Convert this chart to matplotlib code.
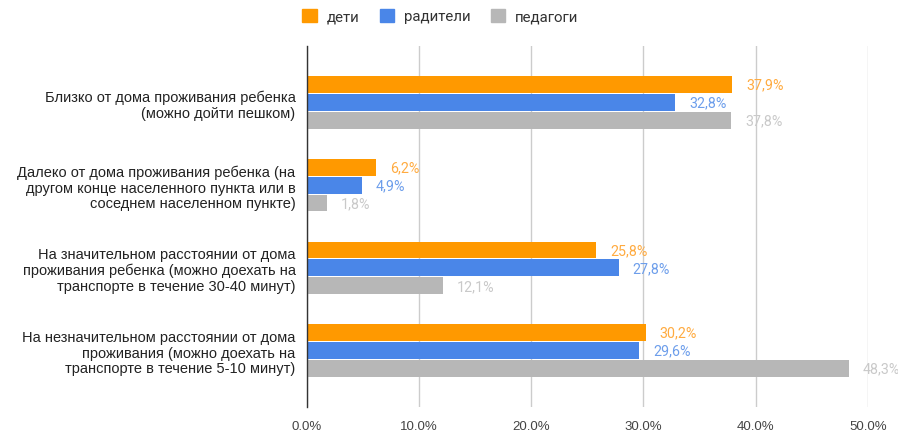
import matplotlib
matplotlib.use("Agg")
import matplotlib.pyplot as plt
import numpy as np

categories = [
    "Близко от дома проживания ребенка\n(можно дойти пешком)",
    "Далеко от дома проживания ребенка (на\nдругом конце населенного пункта или в\nсоседнем населенном пункте)",
    "На значительном расстоянии от дома\nпроживания ребенка (можно доехать на\nтранспорте в течение 30-40 минут)",
    "На незначительном расстоянии от дома\nпроживания (можно доехать на\nтранспорте в течение 5-10 минут)",
]
series_names = ["дети", "радители", "педагоги"]
deti = [37.9, 6.2, 25.8, 30.2]
roditeli = [32.8, 4.9, 27.8, 29.6]
pedagogi = [37.8, 1.8, 12.1, 48.3]
xticks = [0, 10, 20, 30, 40, 50]
xtick_labels = ["0,0%", "10,0%", "20,0%", "30,0%", "40,0%", "50,0%"]

colors = ["#ff9900", "#4a86e8", "#b7b7b7"]
label_colors = ["#ffab40", "#6d9eeb", "#c9c9c9"]

fig = plt.figure(figsize=(8.98, 4.31), dpi=100)
ax = fig.add_axes([306.7/898, 1-408/431, (868-306.7)/898, (408-47)/431])

n = len(categories)
y = np.arange(n)
bh = 0.203
step = 0.217
data = [deti, roditeli, pedagogi]
for i, (vals, c, lc) in enumerate(zip(data, colors, label_colors)):
    pos = y + (i - 1) * step
    ax.barh(pos, vals, height=bh, color=c, zorder=3)
    for p, v in zip(pos, vals):
        ax.annotate(f"{v:.1f}%".replace(".", ","), (v, p), xytext=(14, 0),
                    textcoords="offset pixels",
                    va="center", ha="left", fontsize=10.3, color=lc,
                    family="Roboto", zorder=4, annotation_clip=False)

ax.set_xlim(0, 50)
pad = 15/83
ax.set_ylim(n - 0.5 + pad, -0.5 - pad)
ax.set_xticks(xticks)
ax.set_xticklabels(xtick_labels, fontsize=9.5, color="#444444", family="Liberation Sans")
ax.set_yticks(y)
ax.set_yticklabels(categories, fontsize=10.5, color="#222222", family="Liberation Sans",
                   linespacing=1.14)
ax.tick_params(axis="both", length=0)
ax.tick_params(axis="y", pad=8)
ax.tick_params(axis="x", pad=9)
ax.grid(axis="x", color="#cccccc", linewidth=1, zorder=0)
for s in ["top", "right", "bottom"]:
    ax.spines[s].set_visible(False)
ax.spines["left"].set_color("#333333")
ax.spines["left"].set_linewidth(1)
ax.spines["left"].set_zorder(5)

handles = [plt.Rectangle((0, 0), 1, 1, color=c) for c in colors]
leg = fig.legend(handles, series_names, loc="center", bbox_to_anchor=(440.5/898, 1-17/431),
                 ncol=3, frameon=False, handlelength=0.95, handleheight=0.95,
                 columnspacing=1.35, handletextpad=0.67, prop={"family": "Roboto", "size": 10.8})
for t in leg.get_texts():
    t.set_color("#333333")

fig.savefig("out.png", dpi=100)
